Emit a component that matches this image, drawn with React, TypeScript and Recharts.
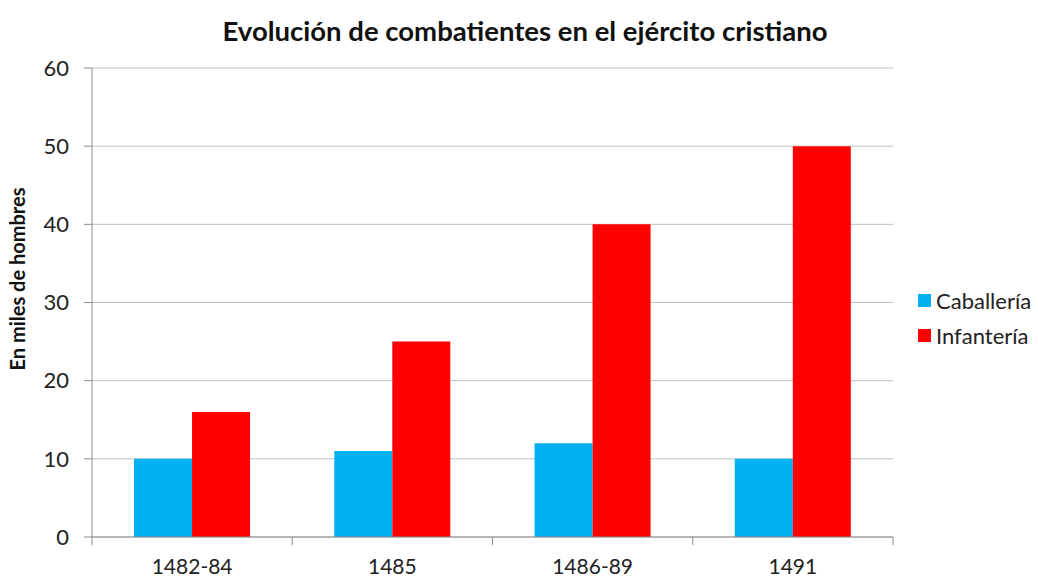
import React from 'react';
import {
  BarChart,
  Bar,
  XAxis,
  YAxis,
  CartesianGrid,
  Label
} from 'recharts';

const periods = ['1482-84', '1485', '1486-89', '1491'];
const caballeria = [10, 11, 12, 10];
const infanteria = [16, 25, 40, 50];
const yTicks = [0, 10, 20, 30, 40, 50, 60];

const FONT = 'Lato, "Open Sans", sans-serif';
const W = 1038;
const H = 578;
const PLOT_LEFT = 92;
const PLOT_RIGHT = 893;
const BAND = (PLOT_RIGHT - PLOT_LEFT) / periods.length;

const data = periods.map((p, i) => ({
  period: p,
  Caballería: caballeria[i],
  Infantería: infanteria[i],
}));

const series = [
  { key: 'Caballería', color: '#00b0f0' },
  { key: 'Infantería', color: '#ff0000' },
];

// category label plus tick marks on the band edges, like the spreadsheet chart
const XTick = (props: any) => {
  const { x, y, payload, index } = props;
  const half = BAND / 2;
  return (
    <g>
      {index === 0 && (
        <line x1={x - half} x2={x - half} y1={y - 8} y2={y} stroke="#8c8c8c" />
      )}
      <line x1={x + half} x2={x + half} y1={y - 8} y2={y} stroke="#8c8c8c" />
      <text x={x} y={y + 29} textAnchor="middle" fontSize={21} fill="#222" fontFamily={FONT}>
        {payload.value}
      </text>
    </g>
  );
};

export default function App() {
  return (
    <div style={{ position: 'absolute', left: 0, top: 0, width: W, height: H, background: '#fff', overflow: 'hidden' }}>
      <BarChart
        width={W}
        height={H}
        data={data}
        margin={{ top: 68, right: W - PLOT_RIGHT, bottom: 5, left: 32 }}
        barCategoryGap="21%"
        barGap={0}
      >
        <text x={525} y={41} textAnchor="middle" fontSize={27.5} fontWeight="bold" fill="#111" fontFamily={FONT}>
          Evolución de combatientes en el ejército cristiano
        </text>
        <CartesianGrid vertical={false} stroke="#c0c0c0" />
        <XAxis
          dataKey="period"
          height={36}
          axisLine={{ stroke: '#8c8c8c' }}
          tickLine={false}
          tick={<XTick />}
          interval={0}
        />
        <YAxis
          width={60}
          domain={[0, 60]}
          ticks={yTicks}
          axisLine={{ stroke: '#8c8c8c' }}
          tickLine={{ stroke: '#8c8c8c' }}
          tickSize={8}
          tickMargin={15}
          tick={{ fontSize: 22, fill: '#222', fontFamily: FONT }}
        >
          <Label
            content={() => (
              <text
                x={25}
                y={279}
                transform="rotate(-90 25 279)"
                textAnchor="middle"
                fontSize={20}
                fontWeight="bold"
                fill="#111"
                fontFamily={FONT}
              >
                En miles de hombres
              </text>
            )}
          />
        </YAxis>
        {series.map((s) => (
          <Bar key={s.key} dataKey={s.key} fill={s.color} isAnimationActive={false} />
        ))}
      </BarChart>
      <div style={{ position: 'absolute', left: 918, top: 283, fontFamily: FONT, fontSize: 22, color: '#222' }}>
        {series.map((s) => (
          <div key={s.key} style={{ display: 'flex', alignItems: 'center', height: 35 }}>
            <span style={{ width: 13, height: 13, background: s.color, marginRight: 5, display: 'inline-block' }} />
            {s.key}
          </div>
        ))}
      </div>
    </div>
  );
}
